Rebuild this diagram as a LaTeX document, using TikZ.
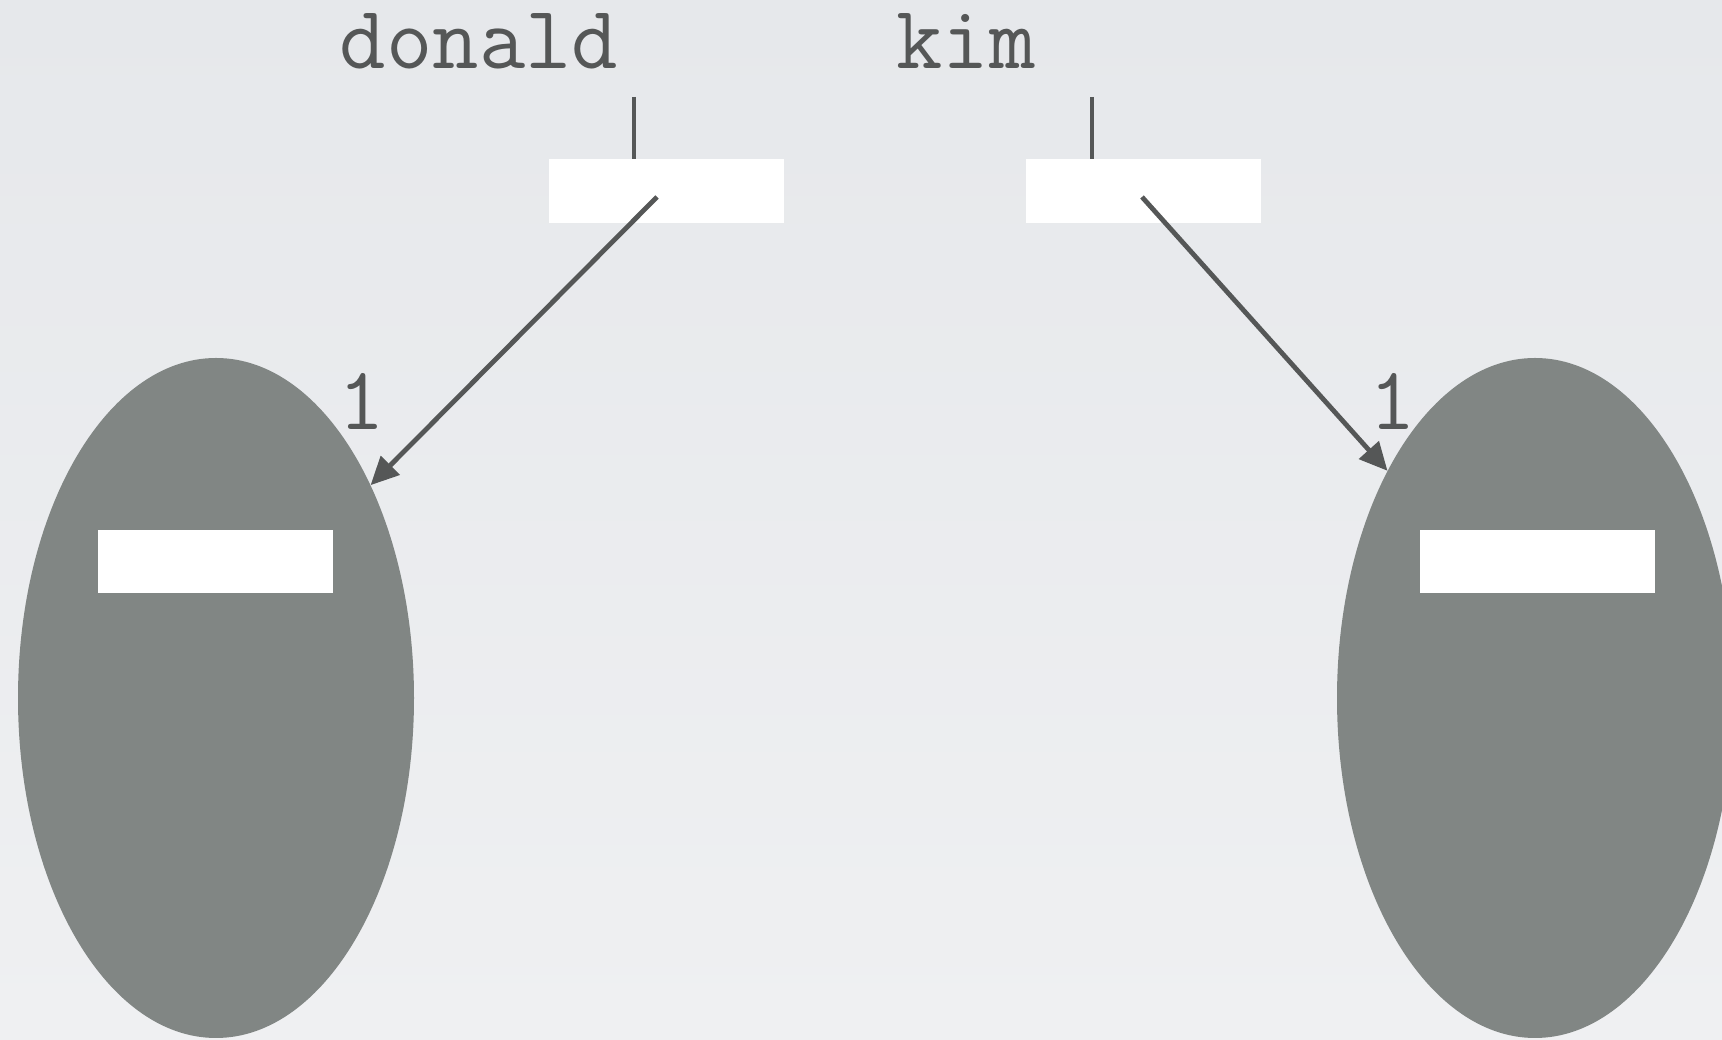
\documentclass[tikz,border=0pt]{standalone}
\usepackage{fontspec}
\usetikzlibrary{shapes.geometric,arrows.meta}
\definecolor{bgtop}{HTML}{E6E8EB}
\definecolor{bgbot}{HTML}{EFF0F2}
\definecolor{blob}{HTML}{818684}
\definecolor{ink}{HTML}{555757}
\tikzset{
  x=1pt,y=1pt,
  label text/.style={font=\ttfamily\fontsize{90}{108}\selectfont, text=ink, inner sep=0pt, anchor=base},
  slot/.style={fill=white, draw=none, minimum width=235pt, minimum height=63pt, inner sep=0pt},
  blobshape/.style={ellipse, fill=blob, draw=none, minimum width=396pt, minimum height=680pt, inner sep=0pt},
  ptr/.style={draw=ink, line width=4.8pt, -{Triangle[length=28pt,width=26pt]}},
  stem/.style={draw=ink, line width=4.5pt}
}
\begin{document}
\begin{tikzpicture}
\useasboundingbox (0,0) rectangle (1722,1040);
\clip (0,0) rectangle (1722,1040);
\fill[top color=bgtop, bottom color=bgbot] (0,0) rectangle (1722,1040);

% objects
\node[blobshape] (objL) at (216,342) {};
\node[blobshape] (objR) at (1535,342) {};
\node[slot] (fieldL) at (215.5,478.5) {};
\node[slot] (fieldR) at (1537.5,478.5) {};

% variables
\node[label text] (donald) at (479,971) {donald};
\node[label text] (kim) at (966,971) {kim};
\node[slot, minimum height=64pt] (boxD) at (666.5,849) {};
\node[slot, minimum height=64pt] (boxK) at (1143.5,849) {};

\coordinate (topD) at (634,943);
\coordinate (topK) at (1092,943);
\draw[stem] (topD) -- (topD |- boxD.north);
\draw[stem] (topK) -- (topK |- boxK.north);

\coordinate (srcD) at (657,843);
\coordinate (srcK) at (1142,843);
\draw[ptr] (srcD) -- (objL.54.5);
\draw[ptr] (srcK) -- (objR.123);

\node[label text, anchor=center] (refL) at (362,639) {1};
\node[label text, anchor=center] (refR) at (1393,639) {1};
\end{tikzpicture}
\end{document}
